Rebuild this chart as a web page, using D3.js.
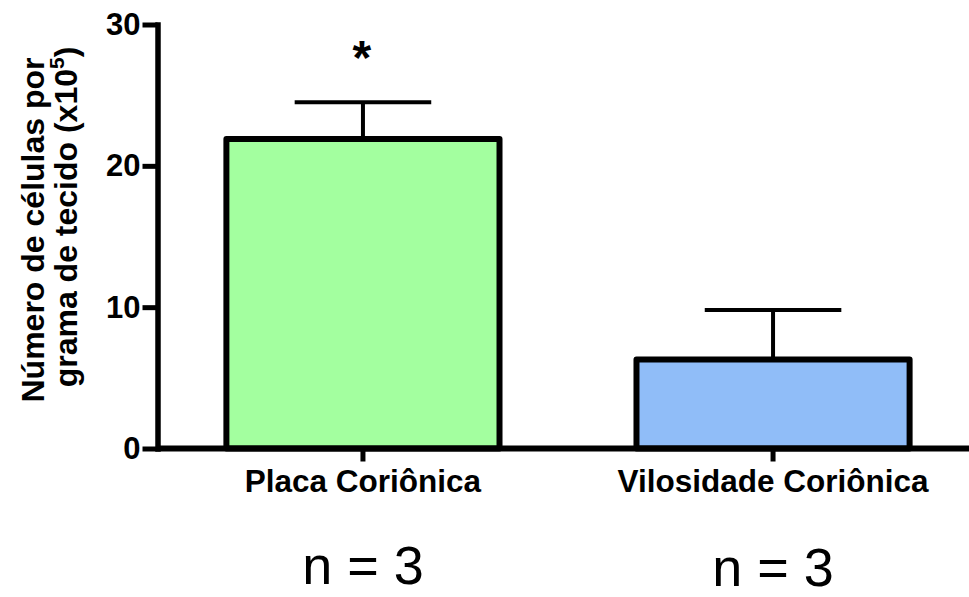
<!DOCTYPE html>
<html>
<head>
<meta charset="utf-8">
<script src="https://cdn.jsdelivr.net/npm/d3@7"></script>
<style>
  html, body { margin: 0; padding: 0; background: #ffffff; }
  svg { display: block; }
  text { font-family: "Liberation Sans", Arial, sans-serif; fill: #000; }
</style>
</head>
<body>
<svg id="chart" width="969" height="597"></svg>
<script>
// Cell counts per gram of tissue (x10^5), mean and SEM per region
const categories = ["Placa Coriônica", "Vilosidade Coriônica"];
const means = [21.9, 6.3];
const sems = [2.6, 3.5];
const sampleSizes = ["n = 3", "n = 3"];
const significance = ["*", ""];
const fills = ["#a3ff9f", "#90bdf8"];
const yTicks = [0, 10, 20, 30];
const yLabelLines = ["Número de células por", "grama de tecido (x10", "5", ")"];

const svg = d3.select("#chart");
const W = 969;
const axisX = 157.5;
const yBottom = 448.5, yTop = 24.5;

const y = d3.scaleLinear().domain([0, 30]).range([yBottom, yTop]);
const x = d3.scaleBand()
  .domain(categories)
  .range([axisX, 978.5])
  .paddingInner(0.334)
  .paddingOuter(0.168);

const data = categories.map((c, i) => ({
  cat: c, mean: means[i], sem: sems[i], n: sampleSizes[i],
  sig: significance[i], fill: fills[i]
}));

// Error bars (upper only), drawn behind the bars
const eb = svg.append("g").attr("stroke", "#000").attr("stroke-width", 4);
data.forEach(d => {
  const cx = x(d.cat) + x.bandwidth() / 2;
  eb.append("line")
    .attr("x1", cx).attr("x2", cx)
    .attr("y1", y(d.mean)).attr("y2", y(d.mean + d.sem));
  eb.append("line")
    .attr("x1", cx - x.bandwidth() / 4).attr("x2", cx + x.bandwidth() / 4)
    .attr("y1", y(d.mean + d.sem)).attr("y2", y(d.mean + d.sem));
});

// Bars
svg.append("g").selectAll("rect").data(data).join("rect")
  .attr("x", d => x(d.cat))
  .attr("width", x.bandwidth())
  .attr("y", d => y(d.mean))
  .attr("height", d => y(0) - y(d.mean))
  .attr("fill", d => d.fill)
  .attr("stroke", "#000")
  .attr("stroke-width", 6)
  .attr("stroke-linejoin", "round");

// Significance marks
svg.append("g").selectAll("text").data(data.filter(d => d.sig)).join("text")
  .attr("x", d => x(d.cat) + x.bandwidth() / 2 - 1)
  .attr("y", d => y(d.mean + d.sem) - 28)
  .attr("text-anchor", "middle")
  .attr("font-size", 48)
  .attr("font-weight", "bold")
  .text(d => d.sig);

// Y axis
const yAxis = svg.append("g")
  .attr("transform", `translate(${axisX},0)`)
  .call(d3.axisLeft(y).tickValues(yTicks).tickSize(15).tickSizeOuter(0).tickPadding(2));
yAxis.select(".domain").attr("stroke-width", 5.5).attr("stroke-linecap", "square");
yAxis.selectAll(".tick line").attr("stroke-width", 5);
yAxis.selectAll(".tick text")
  .attr("font-size", 31).attr("font-weight", "bold")
  .attr("font-family", "Liberation Sans, Arial, sans-serif")
  .attr("fill", "#000");

// X axis
const xAxis = svg.append("g")
  .attr("transform", `translate(0,${yBottom})`)
  .call(d3.axisBottom(x).tickSize(13).tickSizeOuter(0).tickFormat(""));
xAxis.select(".domain").remove();
xAxis.append("line")
  .attr("x1", axisX).attr("x2", W)
  .attr("stroke", "#000").attr("stroke-width", 6);
xAxis.selectAll(".tick line").attr("stroke-width", 5);

// Category labels
svg.append("g").selectAll("text").data(data).join("text")
  .attr("x", d => x(d.cat) + x.bandwidth() / 2)
  .attr("y", 492)
  .attr("text-anchor", "middle")
  .attr("font-size", 31.5)
  .attr("font-weight", "bold")
  .text(d => d.cat);

// Sample sizes
const nY = [584, 586];
svg.append("g").selectAll("text").data(data).join("text")
  .attr("x", d => x(d.cat) + x.bandwidth() / 2)
  .attr("y", (d, i) => nY[i])
  .attr("text-anchor", "middle")
  .attr("font-size", 54)
  .text(d => d.n);

// Y axis title (two rotated lines)
svg.append("text")
  .attr("transform", "translate(44,230) rotate(-90)")
  .attr("text-anchor", "middle")
  .attr("font-size", 32)
  .attr("font-weight", "bold")
  .text(yLabelLines[0]);
const t2 = svg.append("text")
  .attr("transform", "translate(77,217) rotate(-90)")
  .attr("text-anchor", "middle")
  .attr("font-size", 32)
  .attr("font-weight", "bold");
t2.append("tspan").text(yLabelLines[1]);
t2.append("tspan").attr("font-size", 21).attr("dy", -13).text(yLabelLines[2]);
t2.append("tspan").attr("dy", 13).text(yLabelLines[3]);
</script>
</body>
</html>
